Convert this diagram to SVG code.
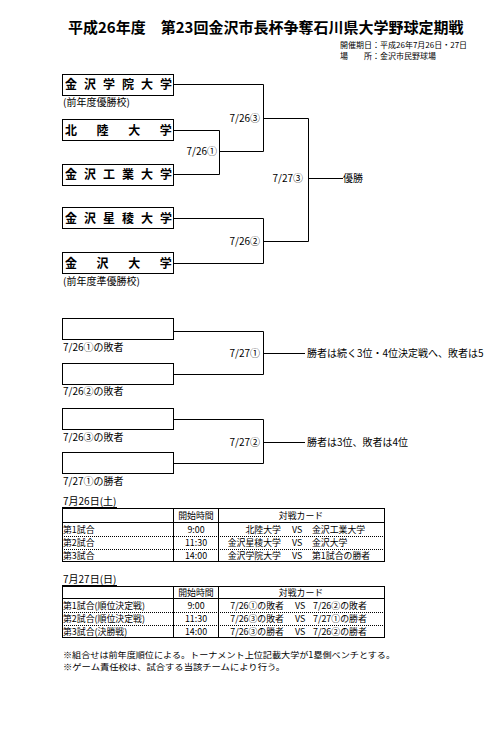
<svg xmlns="http://www.w3.org/2000/svg" width="500" height="733" viewBox="0 0 500 733">
<style>
text{font-family:"Noto Sans CJK JP","Noto Sans",sans-serif;fill:#000}
.title{font-size:15px;font-weight:bold}
.info{font-size:8px}
.team{font-size:12px;font-weight:bold}
.sm{font-size:10px}
.tb{font-size:8.9px}
.nt{font-size:8.5px}
.lbl{font-size:10px;text-anchor:end}
.box{fill:#fff;stroke:#000;stroke-width:1}
.ln{fill:none;stroke:#000;stroke-width:1}
.dot{fill:none;stroke:#000;stroke-width:1;stroke-dasharray:1,1}
.c{text-anchor:middle}
.e{text-anchor:end}
</style>
<rect width="500" height="733" fill="#fff"/>
<g id="title">
<text class="title" x="68" y="33">平成26年度　第23回金沢市長杯争奪石川県大学野球定期戦</text>
<text class="info" x="340" y="48">開催期日：平成26年7月26日・27日</text>
<text class="info" x="340" y="59">場</text>
<text class="info" x="364" y="59">所：金沢市民野球場</text>
</g>
<g id="connectors">
<polyline class="ln" points="174,84.5 263.5,84.5 263.5,151.5 219.5,151.5"/>
<polyline class="ln" points="174,130.5 219.5,130.5 219.5,174.5 174,174.5"/>
<polyline class="ln" points="263.5,118.5 308.5,118.5 308.5,241.5 263.5,241.5"/>
<polyline class="ln" points="308.5,178.5 343,178.5"/>
<polyline class="ln" points="174,218.5 263.5,218.5 263.5,263.5 174,263.5"/>
<polyline class="ln" points="174,331.5 263.5,331.5 263.5,374.5 174,374.5"/>
<polyline class="ln" points="263.5,353.5 305,353.5"/>
<polyline class="ln" points="174,419.5 263.5,419.5 263.5,463.5 174,463.5"/>
<polyline class="ln" points="263.5,442.5 305,442.5"/>
</g>
<g id="labels">
<text class="lbl" x="260" y="122">7/26③</text>
<text class="lbl" x="217" y="155">7/26①</text>
<text class="lbl" x="303" y="182">7/27③</text>
<text class="sm" x="343" y="182">優勝</text>
<text class="lbl" x="260" y="245">7/26②</text>
<text class="lbl" x="260" y="357">7/27①</text>
<text class="sm" x="307" y="357">勝者は続く3位・4位決定戦へ、敗者は5</text>
<text class="lbl" x="260" y="446">7/27②</text>
<text class="sm" x="307" y="446">勝者は3位、敗者は4位</text>
</g>
<g id="team1">
<rect class="box" x="62.5" y="74.5" width="111" height="21"/>
<text class="team" x="65" y="89" letter-spacing="7">金沢学院大学</text>
<text class="sm" x="63" y="106">(前年度優勝校)</text>
</g>
<g id="team2">
<rect class="box" x="62.5" y="119.5" width="111" height="21"/>
<text class="team" x="65" y="134.5" letter-spacing="19.6">北陸大学</text>
</g>
<g id="team3">
<rect class="box" x="62.5" y="164.5" width="111" height="21"/>
<text class="team" x="65" y="179" letter-spacing="7">金沢工業大学</text>
</g>
<g id="team4">
<rect class="box" x="62.5" y="207.5" width="111" height="21"/>
<text class="team" x="65" y="222.5" letter-spacing="7">金沢星稜大学</text>
</g>
<g id="team5">
<rect class="box" x="62.5" y="252.5" width="111" height="21"/>
<text class="team" x="65" y="267.5" letter-spacing="19.6">金沢大学</text>
<text class="sm" x="63" y="285">(前年度準優勝校)</text>
</g>
<g id="slot1">
<rect class="box" x="62.5" y="318.5" width="111" height="21"/>
<text class="sm" x="63" y="351">7/26①の敗者</text>
</g>
<g id="slot2">
<rect class="box" x="62.5" y="363.5" width="111" height="21"/>
<text class="sm" x="63" y="395">7/26②の敗者</text>
</g>
<g id="slot3">
<rect class="box" x="62.5" y="408.5" width="111" height="21"/>
<text class="sm" x="63" y="441">7/26③の敗者</text>
</g>
<g id="slot4">
<rect class="box" x="62.5" y="452.5" width="111" height="21"/>
<text class="sm" x="63" y="485">7/27①の勝者</text>
</g>
<g id="table1">
<text class="sm" x="63" y="504.5">7月26日(土)</text>
<line class="ln" x1="62" y1="507.5" x2="117" y2="507.5"/>
<rect class="ln" x="62.5" y="508.5" width="322" height="53"/>
<line class="ln" x1="62" y1="522.5" x2="385" y2="522.5"/>
<line class="dot" x1="62" y1="536.5" x2="385" y2="536.5"/>
<line class="dot" x1="62" y1="549.5" x2="385" y2="549.5"/>
<line class="ln" x1="173.5" y1="508" x2="173.5" y2="562"/>
<line class="ln" x1="218.5" y1="508" x2="218.5" y2="562"/>
<text class="tb c" x="196" y="519">開始時間</text>
<text class="tb c" x="301" y="519">対戦カード</text>
<text class="tb" x="63" y="533">第1試合</text>
<text class="tb c" x="196" y="533">9:00</text>
<text class="tb e" x="281" y="533">北陸大学</text>
<text class="tb" x="292" y="533">VS</text>
<text class="tb" x="312" y="533">金沢工業大学</text>
<text class="tb" x="63" y="546">第2試合</text>
<text class="tb c" x="196" y="546">11:30</text>
<text class="tb e" x="281" y="546">金沢星稜大学</text>
<text class="tb" x="292" y="546">VS</text>
<text class="tb" x="312" y="546">金沢大学</text>
<text class="tb" x="63" y="559">第3試合</text>
<text class="tb c" x="196" y="559">14:00</text>
<text class="tb e" x="281" y="559">金沢学院大学</text>
<text class="tb" x="292" y="559">VS</text>
<text class="tb" x="312" y="559">第1試合の勝者</text>
</g>
<g id="table2">
<text class="sm" x="63" y="582.5">7月27日(日)</text>
<line class="ln" x1="62" y1="585.5" x2="117" y2="585.5"/>
<rect class="ln" x="62.5" y="586.5" width="322" height="51"/>
<line class="ln" x1="62" y1="598.5" x2="385" y2="598.5"/>
<line class="dot" x1="62" y1="612.5" x2="385" y2="612.5"/>
<line class="dot" x1="62" y1="625.5" x2="385" y2="625.5"/>
<line class="ln" x1="173.5" y1="586" x2="173.5" y2="638"/>
<line class="ln" x1="218.5" y1="586" x2="218.5" y2="638"/>
<text class="tb c" x="196" y="596">開始時間</text>
<text class="tb c" x="301" y="596">対戦カード</text>
<text class="tb" x="63" y="609">第1試合(順位決定戦)</text>
<text class="tb c" x="196" y="609">9:00</text>
<text class="tb e" x="284" y="609">7/26①の敗者</text>
<text class="tb" x="295" y="609">VS</text>
<text class="tb" x="313" y="609">7/26②の敗者</text>
<text class="tb" x="63" y="622">第2試合(順位決定戦)</text>
<text class="tb c" x="196" y="622">11:30</text>
<text class="tb e" x="284" y="622">7/26③の敗者</text>
<text class="tb" x="295" y="622">VS</text>
<text class="tb" x="313" y="622">7/27①の勝者</text>
<text class="tb" x="63" y="635">第3試合(決勝戦)</text>
<text class="tb c" x="196" y="635">14:00</text>
<text class="tb e" x="284" y="635">7/26③の勝者</text>
<text class="tb" x="295" y="635">VS</text>
<text class="tb" x="313" y="635">7/26②の勝者</text>
</g>
<g id="notes">
<text class="nt" x="63" y="658" textLength="332" lengthAdjust="spacingAndGlyphs">※組合せは前年度順位による。トーナメント上位記載大学が1塁側ベンチとする。</text>
<text class="nt" x="63" y="670" textLength="222" lengthAdjust="spacingAndGlyphs">※ゲーム責任校は、試合する当該チームにより行う。</text>
</g>
</svg>
